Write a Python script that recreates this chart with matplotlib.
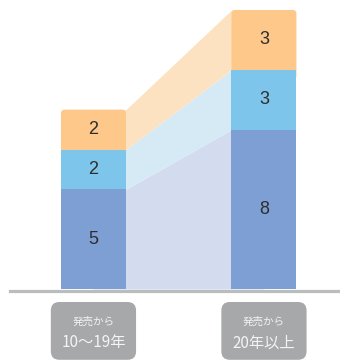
import matplotlib
matplotlib.use('Agg')
import matplotlib.pyplot as plt
from matplotlib.patches import FancyBboxPatch

plt.rcParams['font.family'] = ['Noto Sans CJK JP', 'DejaVu Sans']

# data
groups = ['10〜19年', '20年以上']
group_prefix = '発売から'
bottom_vals = [5, 8]
middle_vals = [2, 3]
top_vals = [2, 3]

c_bottom, c_middle, c_top = '#7E9FD4', '#7EC5EC', '#FEC88A'
c_bottom_pale, c_middle_pale, c_top_pale = '#D3DBEE', '#D6EAF6', '#FDE2C2'

fig = plt.figure(figsize=(3.4, 3.61), dpi=100)
ax = fig.add_axes([0, 0, 1, 1])
ax.set_xlim(-0.548, 1.446)
ax.set_ylim(-3.61, 14.5)
ax.axis('off')

w = 0.381
xs = [0, 1]
aspect = 170.5 / 19.93  # px per x unit / px per y unit

b0 = bottom_vals
b1 = [b + m for b, m in zip(bottom_vals, middle_vals)]
b2 = [b + t for b, t in zip(b1, top_vals)]

# connectors between the bars (start inside the bars so no seam shows)
cx = [xs[0], xs[0] + w / 2, xs[1] - w / 2, xs[1]]

def two(v):
    return [v[0], v[0], v[1], v[1]]

ax.fill_between(cx, 0, two(b0), color=c_bottom_pale, lw=0, zorder=1)
ax.fill_between(cx, two(b0), two(b1), color=c_middle_pale, lw=0, zorder=1)
ax.fill_between(cx, two(b1), two(b2), color=c_top_pale, lw=0, zorder=1)

# bars
for i, x in enumerate(xs):
    top = FancyBboxPatch((x - w / 2, b1[i] - 0.5), w, top_vals[i] + 0.5,
                         boxstyle='round,pad=0,rounding_size=0.022',
                         mutation_aspect=aspect, fc=c_top, ec='none', zorder=2)
    ax.add_patch(top)
ax.bar(xs, middle_vals, w, bottom=b0, color=c_middle, zorder=3)
ax.bar(xs, bottom_vals, w, color=c_bottom, zorder=3)

for i, x in enumerate(xs):
    for lo, hi, v in [(0, b0[i], bottom_vals[i]), (b0[i], b1[i], middle_vals[i]),
                      (b1[i], b2[i], top_vals[i])]:
        ax.text(x, (lo + hi) / 2, str(v), ha='center', va='center',
                fontsize=13, color='#2e2e2e', family='Liberation Sans', zorder=4)

# baseline
ax.axhline(-0.1, xmin=0.029, xmax=1, color='#BBBCBE', lw=2.3, zorder=5)

# category label boxes
for i, x in enumerate(xs):
    box = FancyBboxPatch((x - 0.25, -3.55), 0.5, 2.9,
                         boxstyle='round,pad=0,rounding_size=0.05',
                         mutation_aspect=aspect, fc='#A7A8AA', ec='none')
    ax.add_patch(box)
    ax.text(x, -1.66, group_prefix, ha='center', va='center', fontsize=7.6, color='#F4F4F4')
    ax.text(x, -2.7, groups[i], ha='center', va='center', fontsize=11, color='#F4F4F4')

fig.savefig('out.png', dpi=100)
